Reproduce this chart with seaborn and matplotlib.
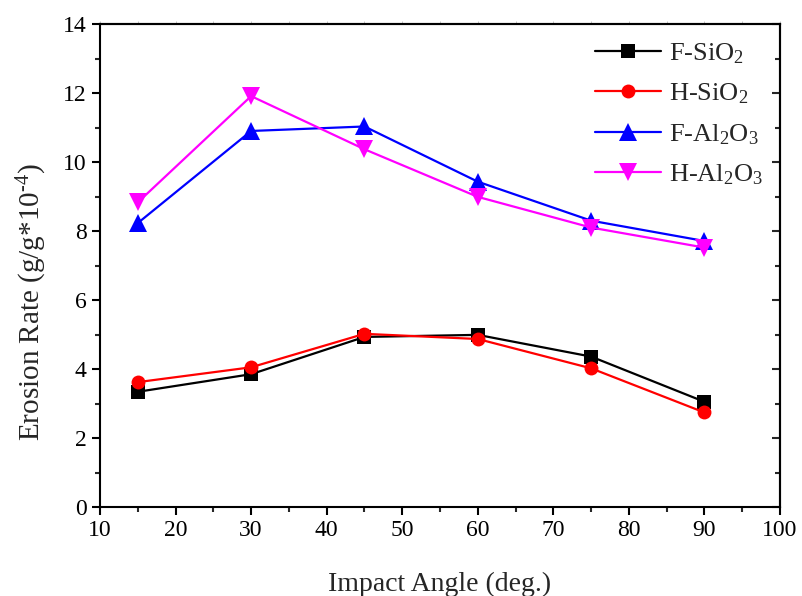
import matplotlib
matplotlib.use("Agg")
import matplotlib.pyplot as plt
from matplotlib.ticker import MultipleLocator
import seaborn as sns
import pandas as pd

angles = [15, 30, 45, 60, 75, 90]
f_sio2 = [3.34, 3.85, 4.93, 4.99, 4.36, 3.05]
h_sio2 = [3.62, 4.05, 5.02, 4.87, 4.02, 2.74]
f_al2o3 = [8.23, 10.90, 11.03, 9.43, 8.30, 7.71]
h_al2o3 = [8.83, 11.91, 10.37, 8.99, 8.10, 7.52]

labels = [r"F-SiO$_2$", r"H-SiO$_2$", r"F-Al$_2$O$_3$", r"H-Al$_2$O$_3$"]
colors = ["#000000", "#ff0000", "#0000ff", "#ff00ff"]
markers = ["s", "o", "^", "v"]
msizes = [9.5, 10, 12.5, 12.5]

rows = []
for lab, vals in zip(labels, [f_sio2, h_sio2, f_al2o3, h_al2o3]):
    for a, v in zip(angles, vals):
        rows.append({"Impact Angle": a, "Erosion Rate": v, "Series": lab})
df = pd.DataFrame(rows)

sns.set_style("white")
plt.rcParams["font.family"] = ["Liberation Serif", "DejaVu Serif"]
plt.rcParams["mathtext.fontset"] = "custom"
plt.rcParams["mathtext.rm"] = "Liberation Serif"
plt.rcParams["mathtext.it"] = "Liberation Serif"
plt.rcParams["mathtext.default"] = "regular"

fig = plt.figure(figsize=(8.02, 5.96), dpi=100)
ax = fig.add_axes([0.1247, 0.1493, 0.8479, 0.8104])

sns.lineplot(data=df, x="Impact Angle", y="Erosion Rate", hue="Series",
             style="Series", palette=dict(zip(labels, colors)),
             markers=dict(zip(labels, markers)), dashes=False,
             hue_order=labels, style_order=labels,
             linewidth=1.6, markersize=9, markeredgewidth=0, ax=ax)

for line, ms in zip(ax.lines, msizes):
    line.set_markersize(ms)

ax.set_xlim(10, 100)
ax.set_ylim(0, 14)
ax.xaxis.set_major_locator(MultipleLocator(10))
ax.xaxis.set_minor_locator(MultipleLocator(5))
ax.yaxis.set_major_locator(MultipleLocator(2))
ax.yaxis.set_minor_locator(MultipleLocator(1))

for s in ax.spines.values():
    s.set_linewidth(1.5)
    s.set_color("black")

ax.tick_params(which="major", direction="out", length=6, width=1.5,
               labelsize=17, colors="black", bottom=True, left=True)
ax.tick_params(which="minor", direction="out", length=3.5, width=1.5,
               bottom=True, left=True)

sec_y = ax.secondary_yaxis("right")
sec_y.yaxis.set_major_locator(MultipleLocator(2))
sec_y.yaxis.set_minor_locator(MultipleLocator(1))
sec_y.tick_params(which="major", direction="in", length=6, width=1.5, labelright=False)
sec_y.tick_params(which="minor", direction="in", length=3.5, width=1.5)
sec_y.spines["right"].set_linewidth(1.5)

sec_x = ax.secondary_xaxis("top")
sec_x.xaxis.set_major_locator(MultipleLocator(10))
sec_x.xaxis.set_minor_locator(MultipleLocator(5))
sec_x.tick_params(which="both", direction="out", length=2, width=0.6,
                  colors="#bbbbbb", labeltop=False)
sec_x.spines["top"].set_linewidth(1.5)
sec_x.spines["top"].set_color("black")

ax.set_xlabel("Impact Angle (deg.)", fontsize=20, labelpad=22)
ax.set_ylabel(r"Erosion Rate (g/g*10$^{\text{-}4}$)", fontsize=21, labelpad=10)
ax.yaxis.label.set_y(0.425)

leg = ax.legend(loc="upper right", frameon=False, fontsize=19,
                handlelength=2.5, handletextpad=0.3, labelspacing=0.6,
                borderaxespad=0.25)
for h, ms in zip(leg.legend_handles, msizes):
    h.set_linewidth(1.6)
    h.set_markersize(ms)

fig.savefig("out.png", dpi=100)
